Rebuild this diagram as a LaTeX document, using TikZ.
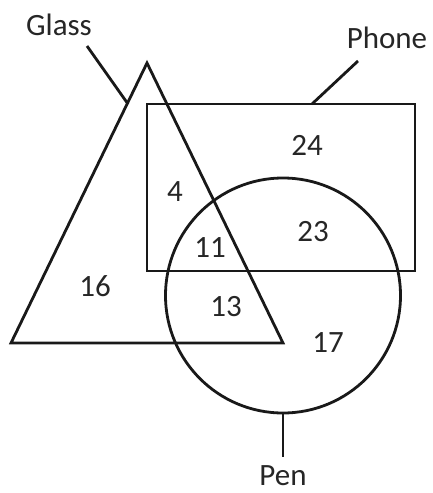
\documentclass[tikz,border=0pt]{standalone}
\usepackage{fontspec}
\setmainfont{Carlito}
\usetikzlibrary{calc}
\tikzset{
  lbl/.style={inner sep=0pt, text=black!85, font=\fontsize{31}{33}\selectfont},
  setline/.style={draw=black!90, line width=2.8pt}
}
\begin{document}
\begin{tikzpicture}[x=1pt,y=-1pt]
    \useasboundingbox (0,0) rectangle (433,493);
    % Coordinates
    \coordinate (T1) at (147,63);
    \coordinate (T2) at (11,343);
    \coordinate (T3) at (283,343);
    \coordinate (R1) at (147,104);
    \coordinate (R2) at (415,271);
    \coordinate (O) at (283,295.5);
    \coordinate (GE) at (128,104);
    \coordinate (PE) at (312,104);
    \coordinate (NE) at (283,413);
    % Sets
    \draw[setline, line join=miter] (T1)--(T2)--(T3)--cycle;
    \draw[setline] (R1) rectangle (R2);
    \draw[setline] (O) circle (117.5);
    % Set names
    \node[lbl] (glass) at (59,25) {Glass};
    \node[lbl] (phone) at (387,38) {Phone};
    \node[lbl] (pen) at (283,476) {Pen};
    \draw[setline] (87,46) -- (GE);
    \draw[setline] (358,61) -- (PE);
    \draw[setline] (NE) -- (283,457);
    % Region counts
    \node[lbl] (n24) at (307,145) {24};
    \node[lbl] (n4) at (175,192) {4};
    \node[lbl] (n23) at (313,232) {23};
    \node[lbl] (n11) at (210,248) {11};
    \node[lbl] (n16) at (95,286) {16};
    \node[lbl] (n13) at (226,307) {13};
    \node[lbl] (n17) at (328,343) {17};
\end{tikzpicture}
\end{document}
